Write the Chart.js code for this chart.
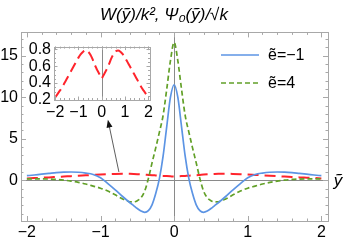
<!DOCTYPE html>
<html>
<head>
<meta charset="utf-8">
<script src="https://cdn.jsdelivr.net/npm/chart.js@4/dist/chart.umd.min.js"></script>
<style>
  body { margin: 0; background: #fff; }
  #wrap { position: relative; width: 346px; height: 243px; }
  #main { position: absolute; left: 0; top: 0; }
  #inset { position: absolute; left: 20px; top: 34px; }
</style>
</head>
<body>
<div id="wrap">
  <canvas id="main" width="346" height="243"></canvas>
  <canvas id="inset" width="140" height="92"></canvas>
</div>
<script>
// y~ values (symmetric grid, finer near the centre)
const xs = [-2.0, -1.9, -1.8, -1.7, -1.6, -1.5, -1.4, -1.3, -1.2, -1.1, -1.0, -0.9, -0.8, -0.7, -0.6,
  -0.55, -0.5, -0.45, -0.4, -0.35, -0.3, -0.25, -0.2, -0.15, -0.1, -0.05, 0,
  0.05, 0.1, 0.15, 0.2, 0.25, 0.3, 0.35, 0.4, 0.45, 0.5, 0.55,
  0.6, 0.7, 0.8, 0.9, 1.0, 1.1, 1.2, 1.3, 1.4, 1.5, 1.6, 1.7, 1.8, 1.9, 2.0];

// W/k^2 for e~ = -1
const wMinus1 = [0.55, 0.64, 0.74, 0.83, 0.92, 0.98, 1.0, 0.97, 0.87, 0.7, 0.3, -0.4, -1.15, -1.95, -2.7,
  -3.05, -3.4, -3.7, -3.85, -3.65, -2.95, -1.6, 0.2, 2.9, 6.5, 10.0, 11.5,
  10.0, 6.5, 2.9, 0.2, -1.6, -2.95, -3.65, -3.85, -3.7, -3.4, -3.05,
  -2.7, -1.95, -1.15, -0.4, 0.3, 0.7, 0.87, 0.97, 1.0, 0.98, 0.92, 0.83, 0.74, 0.64, 0.55];

// W/k^2 for e~ = 4
const wFour = [0.16, 0.17, 0.17, 0.15, 0.1, 0.02, -0.1, -0.25, -0.45, -0.7, -0.95, -1.3, -1.75, -2.25, -2.58,
  -2.6, -2.45, -2.1, -1.3, 0.2, 2.1, 3.9, 5.8, 7.8, 11.0, 14.4, 16.6,
  14.4, 11.0, 7.8, 5.8, 3.9, 2.1, 0.2, -1.3, -2.1, -2.45, -2.6,
  -2.58, -2.25, -1.75, -1.3, -0.95, -0.7, -0.45, -0.25, -0.1, 0.02, 0.1, 0.15, 0.17, 0.17, 0.16];

// psi0/sqrt(k)
const psi0 = [0.23, 0.27, 0.31, 0.35, 0.40, 0.45, 0.50, 0.55, 0.60, 0.65, 0.70, 0.74, 0.77, 0.785, 0.775,
  0.76, 0.74, 0.715, 0.685, 0.65, 0.615, 0.585, 0.555, 0.53, 0.505, 0.48, 0.455,
  0.48, 0.505, 0.53, 0.555, 0.585, 0.615, 0.65, 0.685, 0.715, 0.74, 0.76,
  0.775, 0.785, 0.77, 0.74, 0.70, 0.65, 0.60, 0.55, 0.50, 0.45, 0.40, 0.35, 0.31, 0.27, 0.23];

const mainXTicks = [-2, -1, 0, 1, 2];
const mainYTicks = [0, 5, 10, 15];
const insetXTicks = [-2, -1, 0, 1, 2];
const insetYTicks = [0.2, 0.4, 0.6, 0.8];

const BLUE = 'rgb(92,148,228)';
const GREEN = 'rgb(98,160,40)';
const RED = 'rgb(255,36,44)';
const FONT = '"Liberation Sans", Arial, sans-serif';

const pts = ys => xs.map((x, i) => ({x: x, y: ys[i]}));
const fmt = v => String(v).replace('-', '\u2212');

// Mathematica-style frame: inward ticks on all four sides, zero axes
function frameDecor(o) {
  return {
    id: 'frameDecor',
    beforeDatasetsDraw(chart) {
      const {ctx, chartArea: a, scales: {x, y}} = chart;
      ctx.save();
      ctx.strokeStyle = '#8a8a8a';
      ctx.lineWidth = 1;
      ctx.beginPath();
      const px = Math.round(x.getPixelForValue(0)) + 0.5;
      ctx.moveTo(px, a.top); ctx.lineTo(px, a.bottom);
      if (o.zeroY) {
        const py = Math.round(y.getPixelForValue(0)) + 0.5;
        ctx.moveTo(a.left, py); ctx.lineTo(a.right, py);
      }
      ctx.stroke();
      ctx.restore();
    },
    afterDraw(chart) {
      const {ctx, chartArea: a, scales: {x, y}} = chart;
      ctx.save();
      ctx.strokeStyle = '#a8a8a8';
      ctx.lineWidth = 1;
      ctx.strokeRect(Math.round(a.left) + 0.5, Math.round(a.top) + 0.5,
        Math.round(a.right - a.left), Math.round(a.bottom - a.top));
      ctx.beginPath();
      const tickX = (v, len) => {
        const p = Math.round(x.getPixelForValue(v)) + 0.5;
        ctx.moveTo(p, a.bottom); ctx.lineTo(p, a.bottom - len);
        ctx.moveTo(p, a.top); ctx.lineTo(p, a.top + len);
      };
      const tickY = (v, len) => {
        const p = Math.round(y.getPixelForValue(v)) + 0.5;
        ctx.moveTo(a.left, p); ctx.lineTo(a.left + len, p);
        ctx.moveTo(a.right, p); ctx.lineTo(a.right - len, p);
      };
      for (let v = Math.ceil(x.min / o.xMinor) * o.xMinor; v <= x.max; v += o.xMinor) tickX(v, o.minorLen);
      for (let v = Math.ceil(y.min / o.yMinor) * o.yMinor; v <= y.max; v += o.yMinor) tickY(v, o.minorLen);
      o.xMajor.forEach(v => tickX(v, o.majorLen));
      o.yMajor.forEach(v => tickY(v, o.majorLen));
      ctx.stroke();
      ctx.restore();
    }
  };
}

const mainOverlay = {
  id: 'mainOverlay',
  afterDatasetsDraw(chart) {
    const {ctx, scales: {x, y}} = chart;
    // arrow pointing to the inset
    const x0 = x.getPixelForValue(-0.75), y0 = y.getPixelForValue(1.0);
    const x1 = x.getPixelForValue(-0.9), y1 = y.getPixelForValue(7.3);
    const ang = Math.atan2(y1 - y0, x1 - x0);
    ctx.save();
    ctx.strokeStyle = '#333';
    ctx.fillStyle = '#111';
    ctx.lineWidth = 0.8;
    ctx.beginPath();
    ctx.moveTo(x0, y0);
    ctx.lineTo(x1 - 6 * Math.cos(ang), y1 - 6 * Math.sin(ang));
    ctx.stroke();
    ctx.beginPath();
    ctx.moveTo(x1, y1);
    ctx.lineTo(x1 - 8 * Math.cos(ang) + 3 * Math.sin(ang), y1 - 8 * Math.sin(ang) - 3 * Math.cos(ang));
    ctx.lineTo(x1 - 8 * Math.cos(ang) - 3 * Math.sin(ang), y1 - 8 * Math.sin(ang) + 3 * Math.cos(ang));
    ctx.closePath();
    ctx.fill();
    ctx.restore();
  },
  afterDraw(chart) {
    const {ctx, chartArea: a, scales: {y}} = chart;
    ctx.save();
    // legend inside the plot
    const rows = [{ds: chart.data.datasets[0], yy: 55}, {ds: chart.data.datasets[1], yy: 83}];
    rows.forEach(r => {
      ctx.strokeStyle = r.ds.borderColor;
      ctx.lineWidth = r.ds.borderWidth;
      ctx.setLineDash(r.ds.borderDash || []);
      ctx.beginPath();
      ctx.moveTo(221, r.yy); ctx.lineTo(259, r.yy);
      ctx.stroke();
      ctx.setLineDash([]);
      ctx.fillStyle = '#000';
      ctx.font = '16px ' + FONT;
      ctx.textBaseline = 'middle';
      ctx.textAlign = 'left';
      ctx.fillText(r.ds.label, 268, r.yy + 1);
    });
    // axis label
    ctx.font = 'italic 17px ' + FONT;
    ctx.textAlign = 'center';
    ctx.fillText('\u1EF9', a.right + 10, y.getPixelForValue(0) + 1);
    ctx.restore();
  }
};

const tickFont = {family: FONT, size: 16};

new Chart(document.getElementById('main'), {
  type: 'line',
  data: {
    datasets: [
      {label: 'ẽ=\u22121', data: pts(wMinus1), borderColor: BLUE, borderWidth: 1.7,
        pointRadius: 0, cubicInterpolationMode: 'monotone'},
      {label: 'ẽ=4', data: pts(wFour), borderColor: GREEN, borderWidth: 1.7, borderDash: [5, 3],
        pointRadius: 0, cubicInterpolationMode: 'monotone'},
      {label: 'psi0', data: pts(psi0), borderColor: RED, borderWidth: 2, borderDash: [11, 6],
        pointRadius: 0, cubicInterpolationMode: 'monotone'}
    ]
  },
  options: {
    responsive: false,
    animation: false,
    layout: {padding: {left: 0, right: 18, top: 0, bottom: 0}},
    plugins: {
      legend: {display: false},
      tooltip: {enabled: false},
      title: {
        display: true,
        text: 'W(\u1EF9)/k\u00B2, \u03A8\u2080(\u1EF9)/\u221Ak',
        color: '#000',
        font: {family: FONT, size: 17, style: 'italic', weight: 'normal'},
        padding: {top: 5, bottom: 7}
      }
    },
    scales: {
      x: {
        type: 'linear', min: -2.08, max: 2.09,
        afterBuildTicks: s => { s.ticks = mainXTicks.map(v => ({value: v})); },
        afterFit: s => { s.height = 22; },
        grid: {display: false, drawTicks: false},
        border: {display: false},
        ticks: {padding: 2, color: '#000', font: tickFont, maxRotation: 0, autoSkip: false, callback: fmt}
      },
      y: {
        type: 'linear', min: -4.9, max: 17.8,
        afterBuildTicks: s => { s.ticks = mainYTicks.map(v => ({value: v})); },
        afterFit: s => { s.width = 21; },
        grid: {display: false, drawTicks: false},
        border: {display: false},
        ticks: {padding: 3, color: '#000', font: tickFont, autoSkip: false, callback: fmt}
      }
    }
  },
  plugins: [frameDecor({xMinor: 0.2, yMinor: 1, xMajor: mainXTicks, yMajor: mainYTicks,
    majorLen: 5, minorLen: 2.5, zeroY: true}), mainOverlay]
});

new Chart(document.getElementById('inset'), {
  type: 'line',
  data: {
    datasets: [
      {label: 'psi0', data: pts(psi0), borderColor: RED, borderWidth: 2, borderDash: [10, 5],
        pointRadius: 0, cubicInterpolationMode: 'monotone'}
    ]
  },
  options: {
    responsive: false,
    animation: false,
    layout: {padding: {left: 0, right: 10, top: 6, bottom: 0}},
    plugins: {legend: {display: false}, tooltip: {enabled: false}},
    scales: {
      x: {
        type: 'linear', min: -2.05, max: 2.07,
        afterBuildTicks: s => { s.ticks = insetXTicks.map(v => ({value: v})); },
        afterFit: s => { s.height = 26; },
        grid: {display: false, drawTicks: false},
        border: {display: false},
        ticks: {padding: 3, color: '#000', font: tickFont, maxRotation: 0, autoSkip: false, callback: fmt}
      },
      y: {
        type: 'linear', min: 0.2, max: 0.83,
        afterBuildTicks: s => { s.ticks = insetYTicks.map(v => ({value: v})); },
        afterFit: s => { s.width = 34; },
        grid: {display: false, drawTicks: false},
        border: {display: false},
        ticks: {padding: 3, color: '#000', font: tickFont, autoSkip: false, callback: v => v.toFixed(1)}
      }
    }
  },
  plugins: [frameDecor({xMinor: 0.2, yMinor: 0.05, xMajor: insetXTicks, yMajor: insetYTicks,
    majorLen: 3.5, minorLen: 2, zeroY: false})]
});
</script>
</body>
</html>
